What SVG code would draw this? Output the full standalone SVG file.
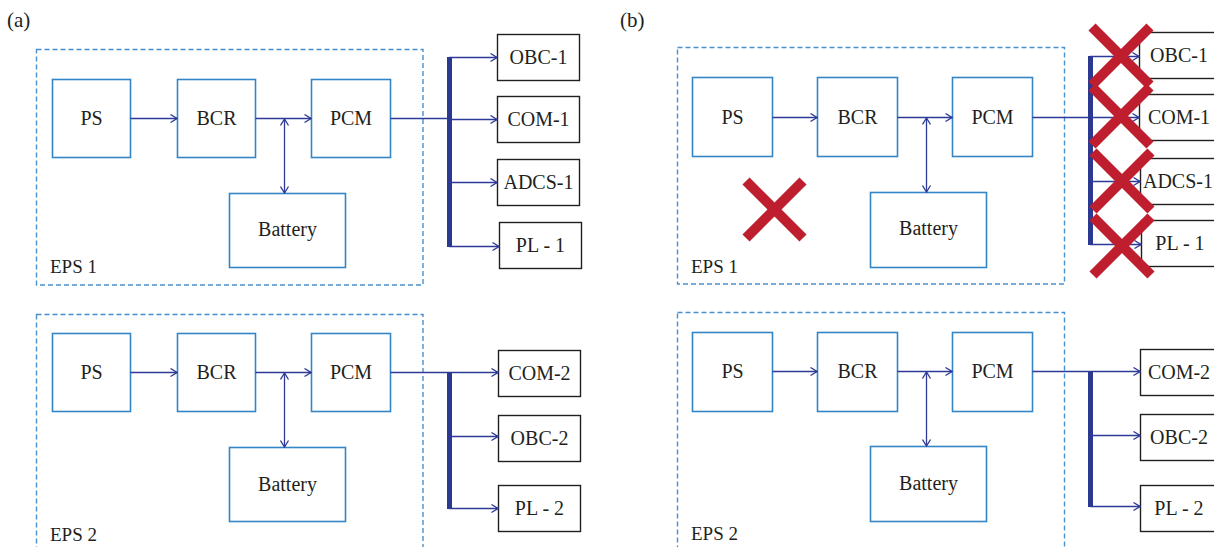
<svg xmlns="http://www.w3.org/2000/svg" width="1214" height="547" viewBox="0 0 1214 547" font-family="'Liberation Serif', 'DejaVu Serif', serif">
<defs>
<marker id="ah" viewBox="0 0 8 10" markerWidth="8" markerHeight="10" refX="7.5" refY="5" orient="auto-start-reverse" markerUnits="userSpaceOnUse">
<path d="M1,1 L7.5,5 L1,9" fill="none" stroke="#2E3A97" stroke-width="1.3"/>
</marker>
<style>
text{font-family:'Liberation Serif','DejaVu Serif',serif}
.dash{fill:none;stroke:#4A90CE;stroke-width:1.4;stroke-dasharray:5,3}
.nb{fill:#fff;stroke:#3385C6;stroke-width:1.6}
.ob{fill:#fff;stroke:#231F20;stroke-width:1.4}
.t{font-size:20px;fill:#231F20;text-anchor:middle}
.lbl{font-size:19px;fill:#231F20}
.pl{font-size:21px;fill:#231F20}
.c{fill:none;stroke:#2E3A97;stroke-width:1.3}
.ca{fill:none;stroke:#2E3A97;stroke-width:1.3;marker-end:url(#ah)}
.cd{fill:none;stroke:#2E3A97;stroke-width:1.3;marker-start:url(#ah);marker-end:url(#ah)}
.bus{fill:none;stroke:#2B3990;stroke-width:5}
.x{stroke:#BE1E2D;stroke-width:10;fill:none}
</style>
</defs>
<rect width="1214" height="547" fill="#fff"/>

<text class="pl" x="7" y="27">(a)</text>
<text class="pl" x="620" y="27">(b)</text>

<!-- Panel (a) top -->
<g id="a-eps1"><rect class="dash" x="36.5" y="49.5" width="386.5" height="235.5"/><text class="lbl" x="50" y="273">EPS 1</text></g>
<g id="a1-ps"><rect class="nb" x="52.5" y="79.5" width="78" height="78"/><text class="t" x="91.5" y="125">PS</text></g>
<g id="a1-bcr"><rect class="nb" x="177.5" y="79.5" width="78" height="78"/><text class="t" x="216.5" y="125">BCR</text></g>
<g id="a1-pcm"><rect class="nb" x="311.5" y="79.5" width="79" height="78"/><text class="t" x="351" y="125">PCM</text></g>
<g id="a1-bat"><rect class="nb" x="229.5" y="193.5" width="116" height="74"/><text class="t" x="287.5" y="236">Battery</text></g>
<g id="a1-obc"><rect class="ob" x="497.5" y="34.5" width="82" height="46"/><text class="t" x="538.5" y="64">OBC-1</text></g>
<g id="a1-com"><rect class="ob" x="497.5" y="96.5" width="82" height="46"/><text class="t" x="538.5" y="126">COM-1</text></g>
<g id="a1-adcs"><rect class="ob" x="497.5" y="159.5" width="82" height="46"/><text class="t" x="538.5" y="189">ADCS-1</text></g>
<g id="a1-pl"><rect class="ob" x="499.5" y="222.5" width="82" height="46"/><text class="t" x="540.5" y="252">PL - 1</text></g>

<!-- Panel (a) bottom -->
<g id="a-eps2"><rect class="dash" x="36.5" y="314.5" width="386.5" height="260"/><text class="lbl" x="50" y="541">EPS 2</text></g>
<g id="a2-ps"><rect class="nb" x="52.5" y="333.5" width="78" height="78"/><text class="t" x="91.5" y="379">PS</text></g>
<g id="a2-bcr"><rect class="nb" x="177.5" y="333.5" width="78" height="78"/><text class="t" x="216.5" y="379">BCR</text></g>
<g id="a2-pcm"><rect class="nb" x="311.5" y="333.5" width="79" height="78"/><text class="t" x="351" y="379">PCM</text></g>
<g id="a2-bat"><rect class="nb" x="229.5" y="447.5" width="116" height="74"/><text class="t" x="287.5" y="491">Battery</text></g>
<g id="a2-com"><rect class="ob" x="498.5" y="350.5" width="82" height="46"/><text class="t" x="539.5" y="380">COM-2</text></g>
<g id="a2-obc"><rect class="ob" x="498.5" y="415.5" width="82" height="46"/><text class="t" x="539.5" y="445">OBC-2</text></g>
<g id="a2-pl"><rect class="ob" x="498.5" y="485.5" width="82" height="46"/><text class="t" x="539.5" y="515">PL - 2</text></g>

<!-- Panel (b) top -->
<g id="b-eps1"><rect class="dash" x="677.5" y="47.5" width="387" height="236.5"/><text class="lbl" x="691" y="273">EPS 1</text></g>
<g id="b1-ps"><rect class="nb" x="692.5" y="77.5" width="80" height="79"/><text class="t" x="732.5" y="124">PS</text></g>
<g id="b1-bcr"><rect class="nb" x="817.5" y="77.5" width="80" height="79"/><text class="t" x="857.5" y="124">BCR</text></g>
<g id="b1-pcm"><rect class="nb" x="952.5" y="77.5" width="80" height="79"/><text class="t" x="992.5" y="124">PCM</text></g>
<g id="b1-bat"><rect class="nb" x="870.5" y="192.5" width="116" height="75"/><text class="t" x="928.5" y="235">Battery</text></g>
<g id="b1-obc"><rect class="ob" x="1139.5" y="32.5" width="82" height="46"/><text class="t" x="1179" y="62">OBC-1</text></g>
<g id="b1-com"><rect class="ob" x="1139.5" y="94.5" width="82" height="46"/><text class="t" x="1179" y="124">COM-1</text></g>
<g id="b1-adcs"><rect class="ob" x="1140.5" y="158.5" width="82" height="46"/><text class="t" x="1178" y="188">ADCS-1</text></g>
<g id="b1-pl"><rect class="ob" x="1141.5" y="220.5" width="82" height="46"/><text class="t" x="1180" y="250">PL - 1</text></g>

<!-- Panel (b) bottom -->
<g id="b-eps2"><rect class="dash" x="677.5" y="312.5" width="387" height="260"/><text class="lbl" x="691" y="540">EPS 2</text></g>
<g id="b2-ps"><rect class="nb" x="692.5" y="332.5" width="80" height="79"/><text class="t" x="732.5" y="378">PS</text></g>
<g id="b2-bcr"><rect class="nb" x="817.5" y="332.5" width="80" height="79"/><text class="t" x="857.5" y="378">BCR</text></g>
<g id="b2-pcm"><rect class="nb" x="952.5" y="332.5" width="80" height="79"/><text class="t" x="992.5" y="378">PCM</text></g>
<g id="b2-bat"><rect class="nb" x="870.5" y="446.5" width="116" height="75"/><text class="t" x="928.5" y="490">Battery</text></g>
<g id="b2-com"><rect class="ob" x="1140.5" y="349.5" width="82" height="46"/><text class="t" x="1179" y="379">COM-2</text></g>
<g id="b2-obc"><rect class="ob" x="1140.5" y="414.5" width="82" height="46"/><text class="t" x="1179" y="444">OBC-2</text></g>
<g id="b2-pl"><rect class="ob" x="1140.5" y="485.5" width="82" height="46"/><text class="t" x="1179" y="515">PL - 2</text></g>

<g id="connectors">
<path class="ca" d="M130.5,118.5 H177"/>
<path class="ca" d="M255.5,118.5 H311"/>
<path class="cd" d="M284.5,119 V193"/>
<path class="c" d="M390.5,118.5 H449"/>
<path class="bus" d="M449.5,57 V247"/>
<path class="ca" d="M449,57.5 H497"/>
<path class="ca" d="M449,119.5 H497"/>
<path class="ca" d="M449,182.5 H497"/>
<path class="ca" d="M449,246.5 H499"/>
<path class="ca" d="M130.5,372.5 H177"/>
<path class="ca" d="M255.5,372.5 H311"/>
<path class="cd" d="M284.5,373 V447"/>
<path class="ca" d="M390.5,372.5 H498"/>
<path class="bus" d="M449.5,372 V509"/>
<path class="ca" d="M449,436.5 H498"/>
<path class="ca" d="M449,508.5 H498"/>
<path class="ca" d="M772.5,117.5 H817"/>
<path class="ca" d="M897.5,117.5 H952"/>
<path class="cd" d="M926.5,118 V192"/>
<path class="c" d="M1032.5,117.5 H1090"/>
<path class="bus" d="M1090.5,56 V245"/>
<path class="ca" d="M1090,56.5 H1139"/>
<path class="ca" d="M1090,117.5 H1139"/>
<path class="ca" d="M1090,181.5 H1140"/>
<path class="ca" d="M1090,244.5 H1141"/>
<path class="ca" d="M772.5,371.5 H817"/>
<path class="ca" d="M897.5,371.5 H952"/>
<path class="cd" d="M926.5,372 V446"/>
<path class="ca" d="M1032.5,371.5 H1140"/>
<path class="bus" d="M1090.5,371 V507"/>
<path class="ca" d="M1090,435.5 H1140"/>
<path class="ca" d="M1090,506.5 H1140"/>
</g>

<g id="failures">
<path class="x" d="M746,181 L803,238 M803,181 L746,238"/>
<path class="x" d="M1092,27 L1150,85 M1150,27 L1092,85"/>
<path class="x" d="M1092,87 L1150,145 M1150,87 L1092,145"/>
<path class="x" d="M1093,152 L1151,210 M1151,152 L1093,210"/>
<path class="x" d="M1093,217 L1151,275 M1151,217 L1093,275"/>
</g>
</svg>
